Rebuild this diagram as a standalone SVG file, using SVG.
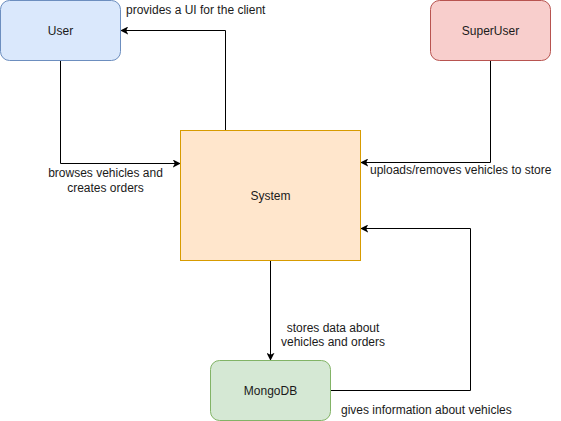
<svg xmlns="http://www.w3.org/2000/svg" width="561" height="421" viewBox="0 0 561 421">
<style>
.node rect{stroke-width:1}
.lbl{font-family:"Liberation Sans",Arial,sans-serif;font-size:12px;fill:#1a1a1a;text-anchor:middle}
.elbl{font-family:"Liberation Sans",Arial,sans-serif;font-size:12px;fill:#1a1a1a}
.edge{fill:none;stroke:#000;stroke-width:1;marker-end:url(#arr)}
</style>
<defs>
<marker id="arr" viewBox="0 0 10 10" refX="9" refY="5" markerWidth="8" markerHeight="8" markerUnits="userSpaceOnUse" orient="auto">
<path d="M0,0 L10,5 L0,10 L2.5,5 Z" fill="#000"/>
</marker>
</defs>
<rect width="561" height="421" fill="#fff"/>
<g id="connectors">
<path class="edge" d="M225.5,130 L225.5,30.5 L121,30.5"/>
<path class="edge" d="M60.5,60.5 L60.5,163.5 L180,163.5"/>
<path class="edge" d="M490.5,60.5 L490.5,162.5 L361,162.5"/>
<path class="edge" d="M270.5,260.5 L270.5,360"/>
<path class="edge" d="M330.5,390.5 L470.5,390.5 L470.5,228.5 L361,228.5"/>
<text class="elbl" x="126" y="14">provides a UI for the client</text>
<text class="elbl" x="105.5" y="177" text-anchor="middle">browses vehicles and</text>
<text class="elbl" x="105.5" y="192" text-anchor="middle">creates orders</text>
<text class="elbl" x="370" y="174">uploads/removes vehicles to store</text>
<text class="elbl" x="333" y="332" text-anchor="middle">stores data about</text>
<text class="elbl" x="333" y="346" text-anchor="middle">vehicles and orders</text>
<text class="elbl" x="341" y="414">gives information about vehicles</text>
</g>
<g id="user" class="node">
<rect x="0.5" y="0.5" width="120" height="60" rx="9" fill="#dae8fc" stroke="#6c8ebf"/>
<text class="lbl" x="60.5" y="34.5">User</text>
</g>
<g id="superuser" class="node">
<rect x="430.5" y="0.5" width="120" height="60" rx="9" fill="#f8cecc" stroke="#b85450"/>
<text class="lbl" x="490.5" y="34.5">SuperUser</text>
</g>
<g id="system" class="node">
<rect x="180.5" y="130.5" width="180" height="130" fill="#ffe6cc" stroke="#d79b00"/>
<text class="lbl" x="270.5" y="199.5">System</text>
</g>
<g id="mongodb" class="node">
<rect x="210.5" y="360.5" width="120" height="60" rx="9" fill="#d5e8d4" stroke="#82b366"/>
<text class="lbl" x="270.5" y="394.5">MongoDB</text>
</g>
</svg>
